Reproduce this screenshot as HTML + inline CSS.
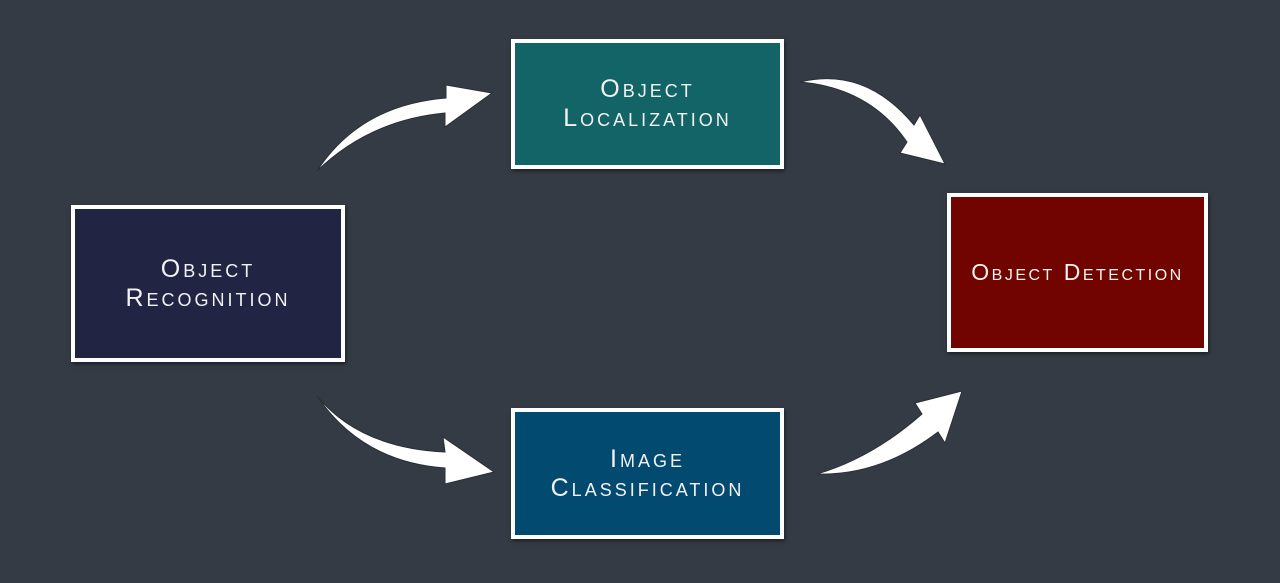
<!DOCTYPE html>
<html><head><meta charset="utf-8"><style>
html,body{margin:0;padding:0;background:#353b45;width:1280px;height:583px;overflow:hidden;position:relative}
.b{position:absolute;box-sizing:border-box;border:4px solid #fff;box-shadow:1px 2px 4px rgba(0,0,0,.5);display:flex;align-items:center;justify-content:center;text-align:center;color:#f2f2f2;font-family:"Liberation Sans",sans-serif;font-variant:small-caps;font-size:25px;line-height:29px;letter-spacing:3px}
svg{position:absolute;left:0;top:0}
</style></head><body>
<svg width="1280" height="583">
<g fill="#fff" stroke="#2a2f37" stroke-width="1">
<path d="M317,171 Q360,105 446,98 L446,85 L492,93 L445,127 L445,113 Q370,120 317,171 Z"/>
<path d="M800,82 Q865,66 914,125 L920,115 L945,164 L900,153 L907,142 Q870,88 800,82 Z"/>
<path d="M317,396 Q360,448 445,452 L443,437 L494,472 L445,484 L445,468 Q362,462 317,396 Z"/>
<path d="M817,474 Q880,476 938,432 L945,443 L962,391 L915,403 L922,414 Q872,458 817,474 Z"/>
</g>
</svg>
<div class="b" style="left:71px;top:205px;width:274px;height:157px;background:#222444">Object<br>Recognition</div>
<div class="b" style="left:511px;top:39px;width:273px;height:130px;background:#136466">Object<br>Localization</div>
<div class="b" style="left:511px;top:408px;width:273px;height:131px;background:#034a70">Image<br>Classification</div>
<div class="b" style="left:947px;top:193px;width:261px;height:159px;background:#720400;font-size:23px;letter-spacing:2.5px">Object Detection</div>
</body></html>
